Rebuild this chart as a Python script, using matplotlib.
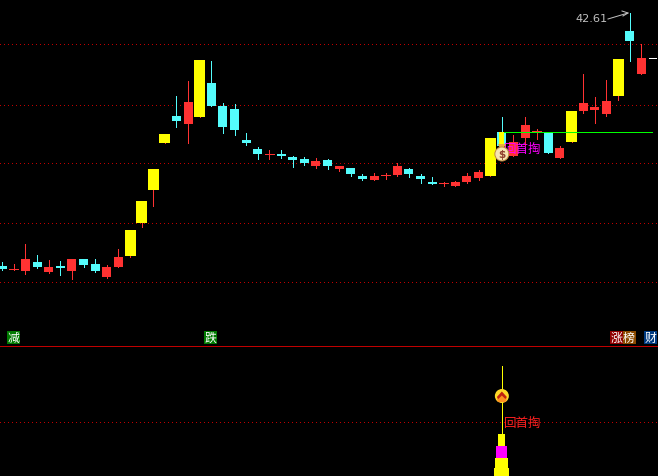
import matplotlib
matplotlib.use("Agg")
import matplotlib.pyplot as plt
from matplotlib.patches import Circle, Polygon, Rectangle

plt.rcParams['font.family'] = ['Noto Sans CJK SC', 'DejaVu Sans']

# candle values (chart units), index = bar number
opens  = [84,81,79,88,78,84,79,91,86,73,83,94,127,160,207,234,226,233,267,244,241,210,201,196,196,193,191,184,190,181,182,174,170,175,175,181,174,168,166.5,164,168,172,174,218,194,212,219,217,192,208,239,240,236,254,319,276,292]
closes = [81,81,91,83,83,82,91,85,79,83,93,120,149,181,216,229,248,290,244,223,220,207,196,196,194,190,187,189,184,184,176,171,174,175,184,176,171,166,166.5,168,174,178,212,204,208,225,219,197,202,239,247,243,249,291,309,292,292]
highs  = [88,86,106,95,90,89,91,91,91,85,101,120,149,181,216,254,269,290,289,247,246,217,203,200,200,194,193,192,191,184,182,176,177,177,187,182,176,173,168,169,177,180,212,233,215,233,221,217,204,239,276,253,270,291,337,306,292]
lows   = [80,80,76,82,77,75,71,83,78,72,83,93,123,144,207,223,207,233,244,217,215,205,191,191,192,183,185,182,181,179,174,170,170,171,174,173,167,166,164,164,167,170,174,204,194,205,211,197,192,208,237,227,234,250,289,276,292]
limit_up_bars = [11,12,13,14,17,42,49,53]
white_bars = [56]
grid_main = [306,245,186.5,127,68]

# lower panel
signal_bar = 43
signal_levels = [9,19,31,43]
signal_colors = ['#ffff00','#ffff00','#ff00ff','#ffff00']
signal_widths = [15,13,11,7]
signal_top = 111
grid_lower = [54.5]
resistance = 42.61
support_start, support_end, support_level = 43, 56, 218

W, H = 658, 477
SPLIT = 346.5
STEP = 11.62
X0 = 2.2
RED, CYAN, YEL = '#ff3232', '#54fcfc', '#ffff00'
DOT = '#c00000'
PX = 0.72

fig = plt.figure(figsize=(W/100, H/100), dpi=100, facecolor='black')
xlim = (-X0/STEP, (W-X0)/STEP)
ax = fig.add_axes([0, (H-SPLIT)/H, 1, SPLIT/H], facecolor='black')
ax.set_xlim(*xlim); ax.set_ylim(3.5+0.6, 350+0.6); ax.axis('off')
low = fig.add_axes([0, 0, 1, (H-SPLIT)/H], facecolor='black')
low.set_xlim(*xlim); low.set_ylim(0.6, H-SPLIT+0.6); low.axis('off')

for g in grid_main:
    ax.plot(xlim, [g, g], color=DOT, lw=PX, ls=(0, (1, 3)), dash_capstyle='butt', antialiased=False, zorder=1)
for g in grid_lower:
    low.plot(xlim, [g, g], color=DOT, lw=PX, ls=(0, (1, 3)), dash_capstyle='butt', antialiased=False, zorder=1)

for i, (o, c, h, l) in enumerate(zip(opens, closes, highs, lows)):
    if i in white_bars:
        col = '#ffffff'
    else:
        col = RED if c >= o else CYAN
    ax.vlines(i, l, h, color=col, lw=PX, antialiased=False, zorder=2)
    half = 3.5 if i in white_bars else 4.5
    if o == c:
        ax.hlines(o, i-half/STEP, i+half/STEP, color=col, lw=PX, antialiased=False, zorder=3)
    elif i in limit_up_bars:
        ax.bar(i, c-o, bottom=o, width=11/STEP, color=YEL, lw=0, antialiased=False, zorder=3)
    else:
        ax.bar(i, abs(c-o), bottom=min(o, c), width=9/STEP, color=col, lw=0, antialiased=False, zorder=3)

ax.plot([support_start, support_end-0.1], [support_level, support_level], color='#00ff00', lw=PX, solid_capstyle='butt', antialiased=False, zorder=5)

# separator
fig.add_artist(plt.Line2D([0, 1], [(H-SPLIT)/H]*2, color='#c00000', lw=PX, antialiased=False))

# lower stacked signal
low.vlines(signal_bar, 0, signal_top, color=YEL, lw=PX, antialiased=False, zorder=2)
prev = -2
for lv, cl, wd in zip(signal_levels, signal_colors, signal_widths):
    low.bar(signal_bar, lv-prev, bottom=prev, width=wd/STEP, color=cl, lw=0, antialiased=False, zorder=3)
    prev = lv

# overlay in pixels for icons and tags
ov = fig.add_axes([0, 0, 1, 1], facecolor='none')
ov.set_xlim(0, W); ov.set_ylim(H, 0); ov.axis('off')

sx = X0 + STEP*signal_bar
# money bag
ov.add_patch(Rectangle((sx-2.5, 133), 5, 14, color='#ffff00', lw=0, zorder=6))
ov.add_patch(Polygon([(sx-4, 145), (sx+4, 145), (sx+2, 149), (sx-2, 149)], color='#e8b040', lw=0, zorder=7))
ov.add_patch(Circle((sx, 155), 7, facecolor='#f6e4b0', edgecolor='#c08840', lw=0.7, zorder=7))
ov.text(sx, 155.2, '$', color='#904030', fontsize=7.5, fontweight='bold', ha='center', va='center', zorder=8, family='DejaVu Sans')
# up icon
ov.add_patch(Circle((sx, 397), 7, color='#ffd828', lw=0, zorder=7))
ov.add_patch(Polygon([(sx-5, 399), (sx, 393), (sx+5, 399), (sx+4, 403), (sx-4, 403)], color='#ff9020', lw=0, zorder=8))
ov.add_patch(Polygon([(sx-5, 398), (sx, 392.5), (sx+5, 398), (sx+3.5, 400), (sx, 396.5), (sx-3.5, 400)], color='#c02010', lw=0, zorder=9))

ov.text(523, 149, '回首掏', color='#ff00ff', fontsize=9.0, ha='center', va='center', zorder=6)
ov.text(522.5, 423.5, '回首掏', color='#ff2020', fontsize=9.0, ha='center', va='center', zorder=6)

ov.text(575, 19, f'{resistance:.2f}', color='#c0c0c0', fontsize=8.2, ha='left', va='center', zorder=6, family='DejaVu Sans')
ov.plot([608, 618, 628], [20, 17, 14], color='#c0c0c0', lw=PX, zorder=6)
ov.plot([622, 628, 623], [12, 14, 17], color='#c0c0c0', lw=PX, zorder=6)

tag_text = ['减', '跌', '涨', '榜', '财']
tag_left = [7, 204, 610, 622.5, 644]
tag_color = ['#007a00', '#007a00', '#900000', '#8b4a00', '#003a80']
for t, x, c in zip(tag_text, tag_left, tag_color):
    ov.add_patch(Rectangle((x, 332), 13, 13, color=c, lw=0, antialiased=False, zorder=6))
    ov.text(x+6.5, 338.5, t, color='white', fontsize=8.6, ha='center', va='center', zorder=7)

fig.savefig('out.png', dpi=100, facecolor='black')
